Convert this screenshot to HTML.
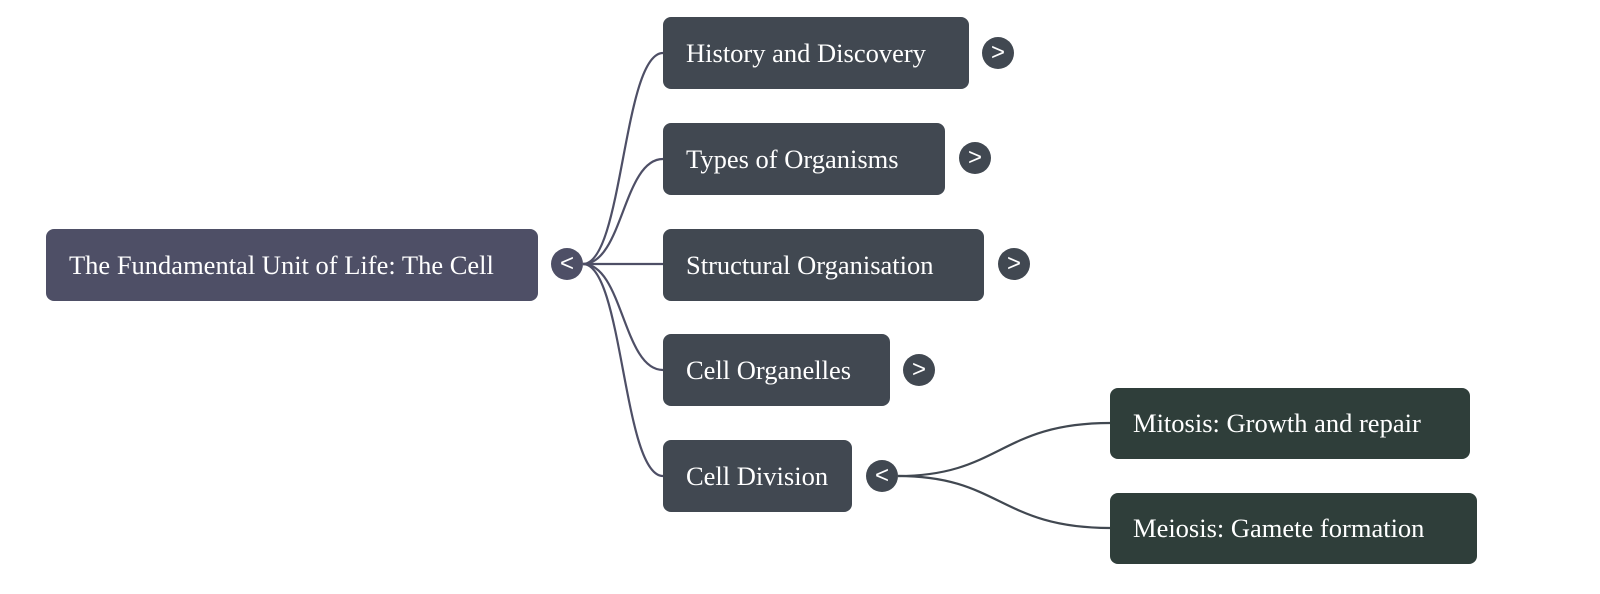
<!DOCTYPE html>
<html><head><style>
body{margin:0;width:1600px;height:594px;background:#fff;position:relative;overflow:hidden;font-family:"Liberation Serif",serif;}
.n{position:absolute;box-sizing:border-box;border-radius:8px;color:#fff;font-size:26.5px;padding-left:23px;display:flex;align-items:center;}
.r{background:#4e4f66}.a{background:#414851}.b{background:#2f3e3a}
.t{position:absolute;width:32px;height:32px;border-radius:50%;background:#414851;color:#fff;font-family:"Liberation Sans",sans-serif;font-size:24px;display:flex;align-items:center;justify-content:center;line-height:1;}
svg{position:absolute;left:0;top:0}
</style></head><body>
<svg width="1600" height="594" fill="none" stroke-width="2.2">
<g stroke="#4e4f66">
<path d="M583 264 C623 264 623 53 663 53"/>
<path d="M583 264 C623 264 623 159 663 159"/>
<path d="M583 264 L663 264"/>
<path d="M583 264 C623 264 623 370 663 370"/>
<path d="M583 264 C623 264 623 476 663 476"/>
</g>
<g stroke="#414851">
<path d="M898 476 C1000 476 1000 423 1110 423"/>
<path d="M898 476 C1000 476 1000 528 1110 528"/>
</g>
</svg>
<div class="n r" style="left:46px;top:229px;width:492px;height:72px">The Fundamental Unit of Life: The Cell</div>
<div class="t" style="left:551px;top:248px;background:#4e4f66">&lt;</div>
<div class="n a" style="left:663px;top:17px;width:306px;height:72px">History and Discovery</div>
<div class="t" style="left:982px;top:37px">&gt;</div>
<div class="n a" style="left:663px;top:123px;width:282px;height:72px">Types of Organisms</div>
<div class="t" style="left:959px;top:142px">&gt;</div>
<div class="n a" style="left:663px;top:229px;width:321px;height:72px">Structural Organisation</div>
<div class="t" style="left:998px;top:248px">&gt;</div>
<div class="n a" style="left:663px;top:334px;width:227px;height:72px">Cell Organelles</div>
<div class="t" style="left:903px;top:354px">&gt;</div>
<div class="n a" style="left:663px;top:440px;width:189px;height:72px">Cell Division</div>
<div class="t" style="left:866px;top:460px">&lt;</div>
<div class="n b" style="left:1110px;top:388px;width:360px;height:71px">Mitosis: Growth and repair</div>
<div class="n b" style="left:1110px;top:493px;width:367px;height:71px">Meiosis: Gamete formation</div>
</body></html>
